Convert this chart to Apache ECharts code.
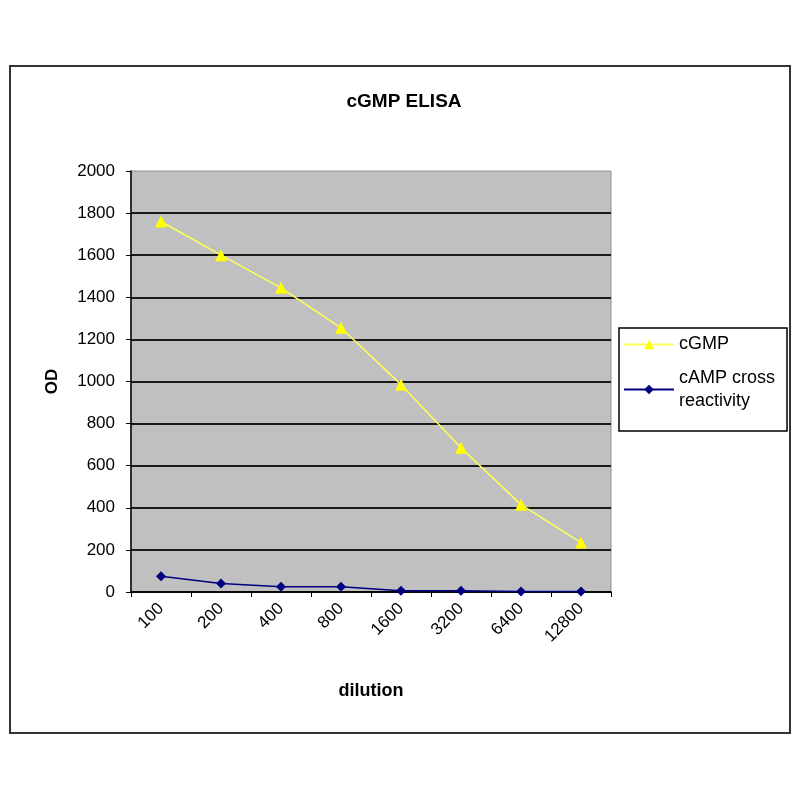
<!DOCTYPE html>
<html>
<head>
<meta charset="utf-8">
<script src="https://cdn.jsdelivr.net/npm/echarts@6/dist/echarts.min.js"></script>
<style>
html,body{margin:0;padding:0;background:#fff;}
#c{width:800px;height:800px;}
</style>
</head>
<body>
<div id="c"></div>
<script>
var categories = ['100','200','400','800','1600','3200','6400','12800'];
var cgmpValues = [1760, 1600, 1445, 1255, 985, 685, 415, 235];
var campValues = [75, 40, 25, 25, 6, 6, 2, 2];
var seriesNames = ['cGMP', 'cAMP cross\nreactivity'];
var yTicks = {min: 0, max: 2000, interval: 200};

var chart = echarts.init(document.getElementById('c'));
var font = 'Liberation Sans, Arial, sans-serif';
chart.setOption({
  backgroundColor: '#ffffff',
  animation: false,
  graphic: [{
    type: 'rect',
    shape: {x: 10, y: 66, width: 780, height: 667},
    style: {fill: 'none', stroke: '#333', lineWidth: 2},
    z: -1
  }],
  title: {
    text: 'cGMP ELISA',
    left: 399, top: 87, textAlign: 'center',
    textStyle: {fontFamily: font, fontSize: 19, fontWeight: 'bold', color: '#000'}
  },
  legend: {
    orient: 'vertical',
    left: 619, top: 328,
    padding: [5, 12, 7, 4],
    itemGap: -1,
    itemWidth: 50, itemHeight: 12,
    backgroundColor: '#fff',
    borderColor: '#000', borderWidth: 1.5,
    textStyle: {fontFamily: font, fontSize: 18, color: '#000', lineHeight: 23},
    data: [
      {name: seriesNames[0]},
      {name: seriesNames[1], textStyle: {padding: [23, 0, 0, 0]}}
    ]
  },
  grid: {
    left: 131, right: 189, top: 171, bottom: 208,
    show: true, backgroundColor: '#c0c0c0', borderColor: '#909090', borderWidth: 1
  },
  xAxis: {
    type: 'category',
    data: categories,
    boundaryGap: true,
    name: 'dilution',
    nameLocation: 'middle',
    nameGap: 90,
    nameTextStyle: {fontFamily: font, fontSize: 18, fontWeight: 'bold', color: '#000'},
    axisLine: {lineStyle: {color: '#000', width: 1.5}},
    axisTick: {show: true, alignWithLabel: false, length: 5, lineStyle: {color: '#000'}},
    axisLabel: {rotate: 45, fontFamily: font, fontSize: 17, color: '#000', margin: 14, interval: 0},
    splitLine: {show: false}
  },
  yAxis: {
    type: 'value',
    min: yTicks.min, max: yTicks.max, interval: yTicks.interval,
    name: 'OD',
    nameLocation: 'middle',
    nameGap: 70,
    nameTextStyle: {fontFamily: font, fontSize: 17, fontWeight: 'bold', color: '#000'},
    axisLine: {show: true, lineStyle: {color: '#000', width: 1.5}},
    axisTick: {show: true, length: 5, lineStyle: {color: '#000'}},
    axisLabel: {fontFamily: font, fontSize: 17, color: '#000', margin: 16,
      formatter: function (v) { return String(v); }},
    splitLine: {show: true, showMaxLine: false, lineStyle: {color: '#1a1a1a', width: 2}}
  },
  series: [{
    name: seriesNames[0],
    type: 'line',
    data: cgmpValues,
    symbol: 'triangle',
    symbolSize: 12,
    color: '#ffff00',
    lineStyle: {color: '#ffff55', width: 1.5},
    itemStyle: {color: '#ffff00'}
  }, {
    name: seriesNames[1],
    type: 'line',
    data: campValues,
    symbol: 'diamond',
    symbolSize: 10,
    color: '#000080',
    lineStyle: {color: '#000080', width: 1.5},
    itemStyle: {color: '#000080'}
  }]
});
</script>
</body>
</html>
